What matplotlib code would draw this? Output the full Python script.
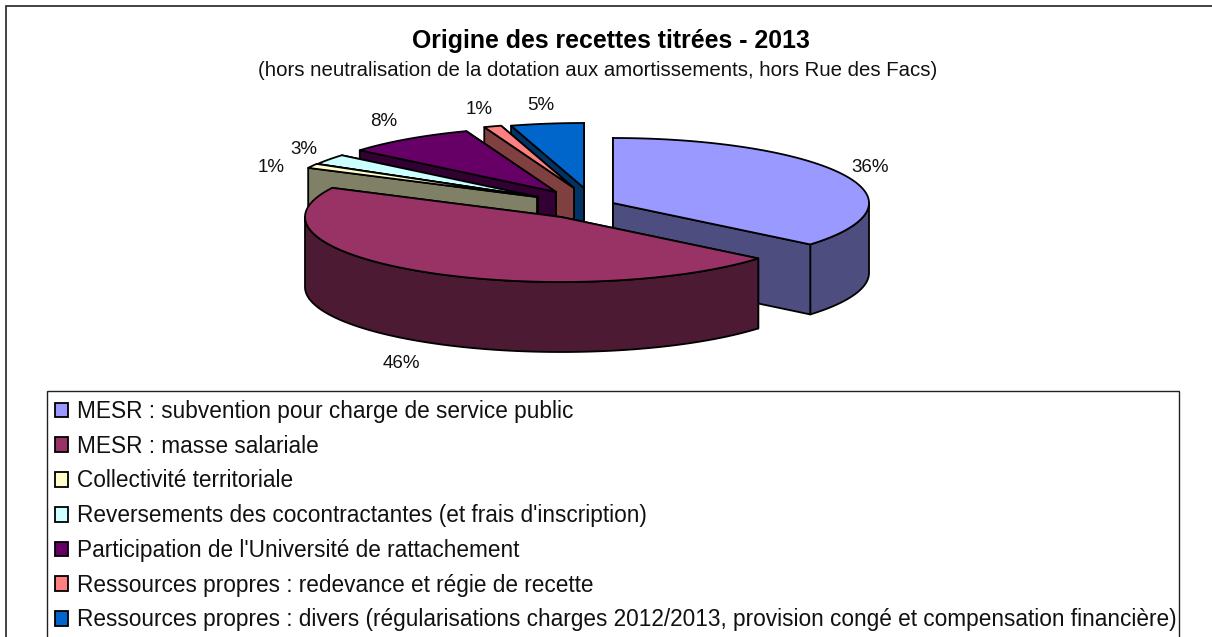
'''Origine des recettes titrees - 2013, drawn as an exploded 3D pie.'''

import numpy as np
import matplotlib
matplotlib.use('Agg')
import matplotlib.pyplot as plt
from matplotlib.patches import Patch, Polygon, Rectangle

plt.rcParams['font.family'] = ['Liberation Sans', 'DejaVu Sans']

# data
categories = [
    'MESR : subvention pour charge de service public',
    'MESR : masse salariale',
    'Collectivité territoriale',
    "Reversements des cocontractantes (et frais d'inscription)",
    "Participation de l'Université de rattachement",
    'Ressources propres : redevance et régie de recette',
    'Ressources propres : divers (régularisations charges 2012/2013, '
    'provision congé et compensation financière)',
]
values = [36.0, 46.4, 1.1, 2.6, 8.2, 1.1, 4.6]
title = 'Origine des recettes titrées - 2013'
subtitle = ('(hors neutralisation de la dotation aux amortissements, '
            'hors Rue des Facs)')

# styles
top_colors = ['#9999FF', '#993366', '#FFFFCC', '#CCFFFF',
              '#660066', '#FF8080', '#0066CC']
wall_colors = ['#4D4D80', '#4D1A33', '#808066', '#668080',
               '#330033', '#804040', '#003366']

# layout, all in pixels of the 1212x637 picture
RX, RY, DEPTH = 256, 65, 70
CENTER = (580, 208)
SHIFTS = [(33, -5), (-19, 9), (-43, -11), (-42, -11),
          (-24, -16), (-6, -20), (4, -20)]
LABEL_POS = [(870, 167), (401, 363), (271, 167), (304, 150),
             (384, 122), (479, 109), (541, 105)]
DRAW_ORDER = [0, 6, 5, 4, 3, 2, 1]   # back to front


def rim(cx, cy, start, end, dy=0):
    '''Points of the ellipse from start to end, angles clockwise from the top.'''
    n = max(2, int(abs(end - start)) + 2)
    t = np.radians(np.linspace(start, end, n))
    return np.column_stack([cx + RX * np.sin(t), cy - RY * np.cos(t) + dy])


def quad(ax, points, color, z):
    ax.add_patch(Polygon(points, closed=True, facecolor=color,
                         edgecolor='black', linewidth=1.3,
                         joinstyle='round', zorder=z))


def draw_slice(ax, i, start, end, z):
    cx = CENTER[0] + SHIFTS[i][0]
    cy = CENTER[1] + SHIFTS[i][1]
    wall = wall_colors[i]
    apex = np.array([cx, cy])
    down = np.array([0, DEPTH])

    def radial(angle):
        p = rim(cx, cy, angle, angle)[0]
        return [apex, p, p + down, apex + down]

    s_front = np.sin(np.radians(start)) < 0
    e_front = np.sin(np.radians(end)) > 0

    # walls turned away first, so that the nearer ones paint over them
    if not s_front:
        quad(ax, radial(start), wall, z)
    if not e_front:
        quad(ax, radial(end), wall, z)

    a, b = max(start, 90), min(end, 270)
    if a < b:
        top = rim(cx, cy, a, b)
        quad(ax, np.vstack([top, (top + down)[::-1]]), wall, z)

    if s_front:
        quad(ax, radial(start), wall, z)
    if e_front:
        quad(ax, radial(end), wall, z)

    face = np.vstack([apex, rim(cx, cy, start, end)])
    quad(ax, face, top_colors[i], z)


fig = plt.figure(figsize=(12.12, 6.37), dpi=100)
ax = fig.add_axes([0, 0, 1, 1])
ax.set_xlim(0, 1212)
ax.set_ylim(637, 0)
ax.axis('off')

# chart area frame, right and bottom sides fall outside the picture
ax.add_patch(Rectangle((6, 6), 1300, 700, facecolor='white',
                       edgecolor='#222222', linewidth=1.2, zorder=0))

edges = np.concatenate([[0], np.cumsum(values)]) * 360.0 / sum(values)
for z, i in enumerate(DRAW_ORDER, start=2):
    draw_slice(ax, i, edges[i], edges[i + 1], z)

ax.text(611, 41, title, ha='center', va='center', fontsize=17.9,
        fontweight='bold', color='black')
ax.text(597.5, 70, subtitle, ha='center', va='center', fontsize=14.65,
        color='#111111')

for v, (x, y) in zip(values, LABEL_POS):
    ax.text(x, y, '%.0f%%' % v, ha='center', va='center', fontsize=13.5,
            color='#111111', zorder=20)

# legend box runs past the bottom of the picture
ax.add_patch(Rectangle((47, 391), 1132, 300, facecolor='white',
                       edgecolor='#222222', linewidth=1.0, zorder=1))
handles = [Patch(facecolor=c, edgecolor='black', linewidth=1.3)
           for c in top_colors]
leg = ax.legend(handles, categories, loc='upper left', frameon=False,
                bbox_to_anchor=(54.5 / 1212, 1 - 400 / 637),
                bbox_transform=fig.transFigure, borderpad=0, borderaxespad=0,
                fontsize=16.25, handlelength=0.62, handleheight=0.62,
                handletextpad=0.36, labelspacing=0.52, labelcolor='#111111')
leg.set_zorder(21)

fig.savefig('out.png', dpi=100)
